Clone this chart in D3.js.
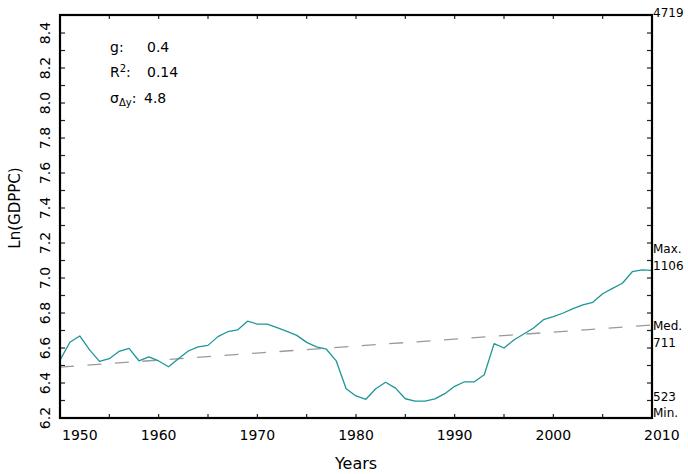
<!DOCTYPE html>
<html>
<head>
<meta charset="utf-8">
<script src="https://cdn.jsdelivr.net/npm/d3@7"></script>
<style>
  html, body { margin: 0; padding: 0; background: #fff; }
  svg { display: block; }
  text { font-family: "DejaVu Sans", sans-serif; fill: #000; }
</style>
</head>
<body>
<svg id="chart" width="688" height="474"></svg>
<script>
// ---- data ----
const years = [1950,1951,1952,1953,1954,1955,1956,1957,1958,1959,
  1960,1961,1962,1963,1964,1965,1966,1967,1968,1969,
  1970,1971,1972,1973,1974,1975,1976,1977,1978,1979,
  1980,1981,1982,1983,1984,1985,1986,1987,1988,1989,
  1990,1991,1992,1993,1994,1995,1996,1997,1998,1999,
  2000,2001,2002,2003,2004,2005,2006,2007,2008,2009,2010];
const lnGdppc = [6.531,6.633,6.669,6.589,6.524,6.539,6.581,6.598,6.527,6.549,
  6.526,6.493,6.539,6.583,6.607,6.615,6.665,6.693,6.703,6.753,
  6.737,6.737,6.716,6.695,6.672,6.632,6.606,6.593,6.526,6.367,
  6.326,6.307,6.367,6.404,6.371,6.310,6.297,6.297,6.309,6.339,
  6.381,6.407,6.407,6.447,6.625,6.600,6.646,6.680,6.714,6.762,
  6.779,6.800,6.825,6.846,6.861,6.910,6.941,6.970,7.036,7.047,7.044];
const trendYears = [1950, 2010];
const trendValues = [6.491, 6.731];
const xTickLabels = [1950, 1960, 1970, 1980, 1990, 2000, 2010];
const xMinorTicks = [1955, 1960, 1965, 1970, 1975, 1980, 1985, 1990, 1995, 2000, 2005];
const yTickLabels = [6.2, 6.4, 6.6, 6.8, 7.0, 7.2, 7.4, 7.6, 7.8, 8.0, 8.2, 8.4];
const yMinorTicks = [6.3,6.4,6.5,6.6,6.7,6.8,6.9,7.0,7.1,7.2,7.3,7.4,7.5,7.6,7.7,7.8,7.9,8.0,8.1,8.2,8.3,8.4];
const rightValues = [4719, 1106, 711, 523];
const rightCaptions = ["", "Max.", "Med.", "Min."];
const statNames = ["g", "R2", "sigma"];
const statValues = ["0.4", "0.14", "4.8"];

// ---- layout ----
const L = 60, R = 652, T = 15, B = 418;
const svg = d3.select("#chart");
const x = d3.scaleLinear().domain([1950, 2010]).range([L, R]);
const y = d3.scaleLinear().domain([6.2, 8.503]).range([B, T]);

// ticks (inward)
const tickG = svg.append("g").attr("stroke", "#222").attr("stroke-width", 1.2);
tickG.selectAll(".bt").data(xMinorTicks).join("line")
  .attr("x1", d => x(d)).attr("x2", d => x(d)).attr("y1", B).attr("y2", B - 4);
tickG.selectAll(".tt").data(xMinorTicks).join("line")
  .attr("x1", d => x(d)).attr("x2", d => x(d)).attr("y1", T).attr("y2", T + 4);
tickG.selectAll(".lt").data(yMinorTicks).join("line")
  .attr("x1", L).attr("x2", L + 5).attr("y1", d => y(d)).attr("y2", d => y(d));
tickG.selectAll(".rt").data(yMinorTicks).join("line")
  .attr("x1", R).attr("x2", R - 5).attr("y1", d => y(d)).attr("y2", d => y(d));

// trend line
svg.append("path")
  .datum(trendYears.map((d, i) => [d, trendValues[i]]))
  .attr("fill", "none").attr("stroke", "#9a9a9a").attr("stroke-width", 1.3)
  .attr("stroke-dasharray", "14,13.5")
  .attr("d", d3.line().x(d => x(d[0])).y(d => y(d[1])));

// data line
svg.append("path")
  .datum(years.map((d, i) => [d, lnGdppc[i]]))
  .attr("fill", "none").attr("stroke", "#1f9696").attr("stroke-width", 1.3)
  .attr("stroke-linejoin", "round")
  .attr("d", d3.line().x(d => x(d[0])).y(d => y(d[1])));

// frame
svg.append("rect").attr("x", L).attr("y", T).attr("width", R - L).attr("height", B - T)
  .attr("fill", "none").attr("stroke", "#000").attr("stroke-width", 2.2);

// x tick labels
svg.selectAll(".xl").data(xTickLabels).join("text")
  .attr("x", d => d === 1950 ? x(d) + 2 : (d === 2010 ? x(d) - 8 : x(d)))
  .attr("y", 439.5)
  .attr("text-anchor", d => d === 1950 || d === 2010 ? "start" : "middle")
  .attr("font-size", 14)
  .text(d => d);

// y tick labels (rotated)
svg.selectAll(".yl").data(yTickLabels).join("text")
  .attr("transform", d => `translate(50,${y(d)}) rotate(-90)`)
  .attr("text-anchor", "middle")
  .attr("font-size", 14)
  .text(d => d.toFixed(1));

// axis titles
svg.append("text").attr("x", (L + R) / 2).attr("y", 469)
  .attr("text-anchor", "middle").attr("font-size", 16).text("Years");
svg.append("text").attr("transform", "translate(20,208) rotate(-90)")
  .attr("text-anchor", "middle").attr("font-size", 15).text("Ln(GDPPC)");

// right labels
rightValues.forEach((v, i) => {
  const yy = y(Math.log(v));
  const base = i === 0 ? yy - 5.7 : yy - 7;
  svg.append("text").attr("x", 653).attr("y", base).attr("font-size", 12).text(v);
  if (rightCaptions[i] === "Min.") {
    svg.append("text").attr("x", 653).attr("y", yy + 9).attr("font-size", 12).text(rightCaptions[i]);
  } else if (rightCaptions[i]) {
    svg.append("text").attr("x", 653).attr("y", base - 16.5).attr("font-size", 12).text(rightCaptions[i]);
  }
});

// stats annotation
const ann = svg.append("g").attr("font-size", 14);
const statBase = [52, 77, 103];
const statValX = [147, 147, 144];
statNames.forEach((n, i) => {
  const t = ann.append("text").attr("x", 110).attr("y", statBase[i]);
  if (n === "g") {
    t.text("g:");
  } else if (n === "R2") {
    t.append("tspan").text("R");
    t.append("tspan").attr("font-size", 10).attr("dy", -5).text("2");
    t.append("tspan").attr("dy", 5).text(":");
  } else {
    t.append("tspan").text("σ");
    t.append("tspan").attr("font-size", 10).attr("dy", 3).text("Δy");
    t.append("tspan").attr("dy", -3).text(":");
  }
  ann.append("text").attr("x", statValX[i]).attr("y", statBase[i]).text(statValues[i]);
});
</script>
</body>
</html>
